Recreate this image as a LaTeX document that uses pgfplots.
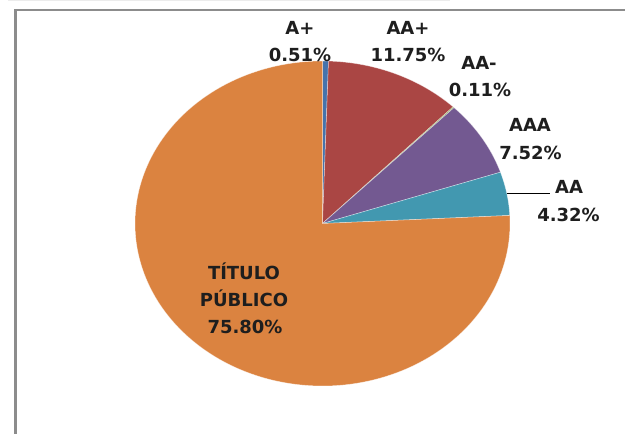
\documentclass[border=0pt]{standalone}
\usepackage{pgfplots}
\pgfplotsset{compat=1.18}
\usepackage{fontspec}
\setmainfont{DejaVu Sans}
\definecolor{cAp}{RGB}{70,115,172}
\definecolor{cAAp}{RGB}{170,70,68}
\definecolor{cAAm}{RGB}{136,165,78}
\definecolor{cAAA}{RGB}{115,89,145}
\definecolor{cAA}{RGB}{66,152,176}
\definecolor{cTP}{RGB}{219,131,64}
\definecolor{frame}{RGB}{140,140,140}
\definecolor{txt}{RGB}{30,30,30}
\tikzset{lbl/.style={anchor=base, font=\fontsize{13.5}{16}\selectfont\bfseries, text=txt, inner sep=0pt}}
\def\cum{0}
\newcommand{\pieslice}[2]{%
  \pgfmathsetmacro{\pa}{\cum}%
  \pgfmathsetmacro{\pb}{\cum+#1}%
  \xdef\cum{\pb}%
  \edef\doslice{\noexpand\addplot[fill=#2, draw=white, draw opacity=0.5, line width=0.4pt, domain=\pa:\pb, samples=150, variable=\noexpand\t] ({322.5+187.5*sin(3.6*\noexpand\t)},{223.5-162.5*cos(3.6*\noexpand\t)}) -- (axis cs:322.5,223.5) -- cycle;}%
  \doslice
}
\begin{document}
\begin{tikzpicture}
\begin{axis}[
  scale only axis, width=468.75pt, height=325.5pt,
  xmin=0, xmax=625, ymin=0, ymax=434, y dir=reverse,
  hide axis, clip=false
]
% frame
\addplot[gray!15, line width=0.75pt] coordinates {(8,0.6) (450,0.6)};
\addplot[frame, line width=1.6pt] coordinates {(15.5,434) (15.5,10) (625,10)};
% slices (percentages, clockwise from 12 o'clock)
\pieslice{0.51}{cAp}   % A+
\pieslice{11.75}{cAAp} % AA+
\pieslice{0.11}{cAAm}  % AA-
\pieslice{7.52}{cAAA}  % AAA
\pieslice{4.32}{cAA}   % AA
\pieslice{75.80}{cTP}  % TITULO PUBLICO
% leader line
\addplot[black, line width=0.8pt] coordinates {(507,193.5) (550,193.5)};
% labels
\node[lbl] at (axis cs:300,35) {A+};
\node[lbl] at (axis cs:300,62) {0.51\%};
\node[lbl] at (axis cs:408,35) {AA+};
\node[lbl] at (axis cs:408,62) {11.75\%};
\node[lbl] at (axis cs:479,70) {AA-};
\node[lbl] at (axis cs:480,97) {0.11\%};
\node[lbl] at (axis cs:530,131.5) {AAA};
\node[lbl] at (axis cs:530.5,159.5) {7.52\%};
\node[lbl] at (axis cs:569,194) {AA};
\node[lbl] at (axis cs:568.5,221.5) {4.32\%};
\node[lbl] at (axis cs:244,279.5) {TÍTULO};
\node[lbl] at (axis cs:244,306.5) {PÚBLICO};
\node[lbl] at (axis cs:245,333.5) {75.80\%};
\end{axis}
\pgfresetboundingbox
\path (0,0) rectangle (468.75pt,325.5pt);
\end{tikzpicture}
\end{document}
